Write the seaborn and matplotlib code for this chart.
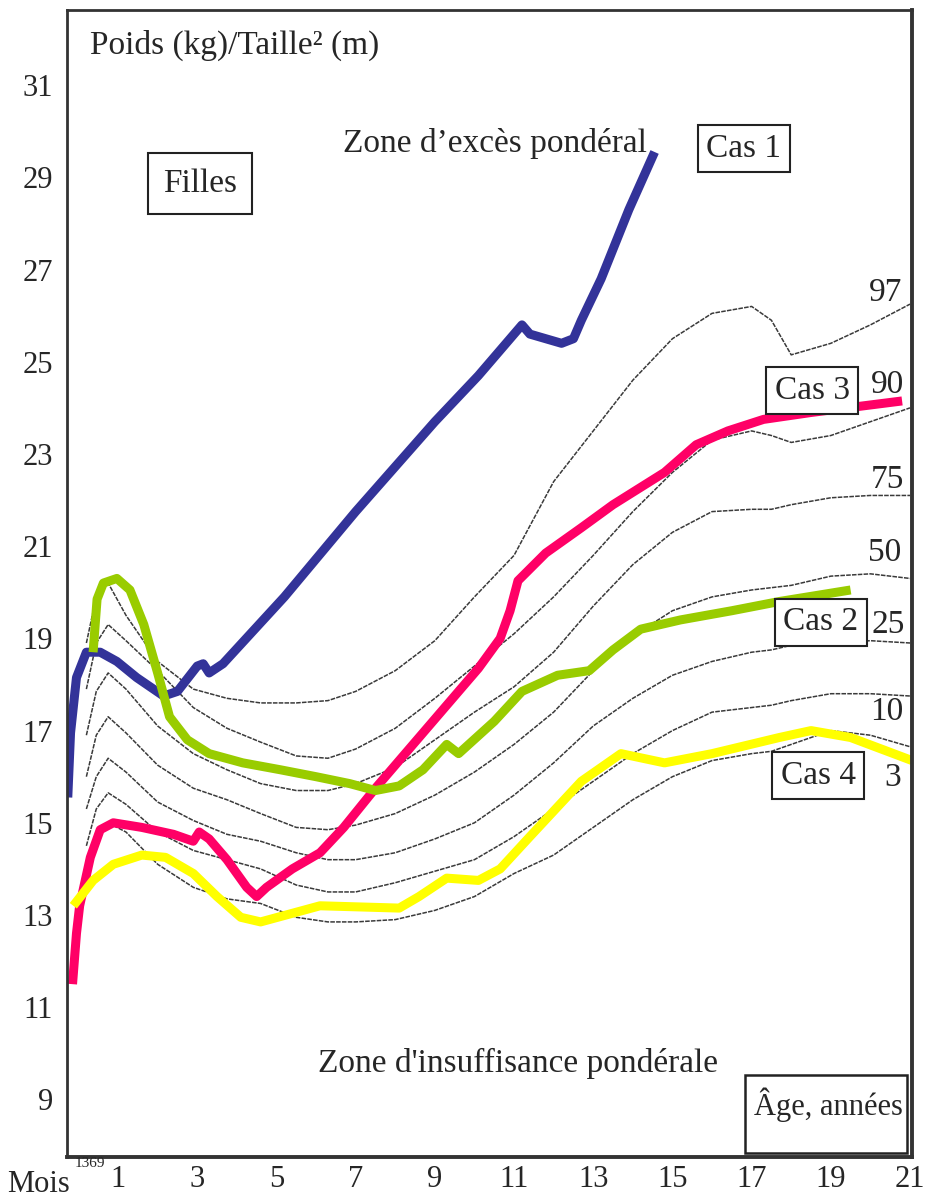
import numpy as np
import pandas as pd
import seaborn as sns
import matplotlib.pyplot as plt
from matplotlib.patches import Rectangle

sns.set_theme(style="white")
plt.rcParams['font.family'] = ['Liberation Serif', 'DejaVu Serif']

# percentile reference curves (age in years, BMI)
pct_ages = [0.2, 0.45, 0.75, 1.2, 2.0, 2.9, 3.75, 4.6, 5.5, 6.3, 7.0, 8.0, 9.0, 10.0,
            11.0, 12.0, 13.0, 14.0, 15.0, 16.0, 17.0, 17.5, 18.0, 19.0, 20.0, 21.0]
p97 = [18.9, 19.9, 20.2, 19.5, 18.5, 17.9, 17.7, 17.6, 17.6, 17.65, 17.85, 18.3, 18.95, 19.9,
       20.8, 22.4, 23.5, 24.6, 25.5, 26.05, 26.2, 25.9, 25.15, 25.4, 25.8, 26.25]
p90 = [17.9, 18.9, 19.3, 18.95, 18.3, 17.5, 17.05, 16.75, 16.45, 16.4, 16.6, 17.05, 17.7, 18.4,
       19.1, 19.9, 20.8, 21.75, 22.6, 23.3, 23.5, 23.4, 23.25, 23.4, 23.7, 24.0]
p75 = [16.9, 17.85, 18.25, 17.9, 17.1, 16.5, 16.15, 15.85, 15.7, 15.7, 15.85, 16.2, 16.8, 17.4,
       17.95, 18.7, 19.7, 20.6, 21.3, 21.75, 21.8, 21.8, 21.9, 22.05, 22.1, 22.1]
p50 = [16.0, 16.9, 17.3, 16.95, 16.25, 15.75, 15.5, 15.2, 14.9, 14.85, 14.95, 15.2, 15.6, 16.1,
       16.7, 17.4, 18.3, 19.05, 19.6, 19.9, 20.05, 20.1, 20.15, 20.35, 20.4, 20.3]
p25 = [15.3, 16.0, 16.4, 16.1, 15.45, 15.05, 14.75, 14.6, 14.35, 14.2, 14.2, 14.35, 14.65, 15.0,
       15.6, 16.3, 17.1, 17.7, 18.2, 18.5, 18.7, 18.75, 18.85, 18.9, 18.95, 18.9]
p10 = [14.5, 15.3, 15.65, 15.4, 14.8, 14.4, 14.2, 14.0, 13.65, 13.5, 13.5, 13.7, 13.95, 14.2,
       14.7, 15.3, 15.9, 16.5, 17.0, 17.4, 17.5, 17.55, 17.65, 17.8, 17.8, 17.75]
p3 = [14.0, 14.7, 15.0, 14.8, 14.1, 13.6, 13.35, 13.25, 12.95, 12.85, 12.85, 12.9, 13.1, 13.4,
      13.9, 14.3, 14.9, 15.5, 16.0, 16.35, 16.5, 16.55, 16.7, 17.0, 16.9, 16.65]

# the four cases
cas1_age = [-0.27, -0.2, -0.05, 0.2, 0.55, 0.97, 1.47, 2.15, 2.5, 3.0, 3.15, 3.3, 3.65,
            5.2, 7.0, 9.0, 10.1, 11.2, 11.4, 12.2, 12.5, 12.7, 13.2, 13.9, 14.55]
cas1_bmi = [15.55, 16.95, 18.15, 18.7, 18.7, 18.5, 18.15, 17.75, 17.85, 18.4, 18.45, 18.25, 18.45,
            19.9, 21.75, 23.7, 24.7, 25.8, 25.6, 25.4, 25.5, 25.9, 26.8, 28.3, 29.55]

cas2_age = [0.37, 0.47, 0.63, 0.97, 1.3, 1.65, 2.0, 2.3, 2.75, 3.3, 4.15, 5.1, 6.0, 6.85,
            7.5, 8.1, 8.7, 9.3, 9.6, 10.5, 11.2, 12.1, 12.9, 13.5, 14.2, 15.2, 16.5, 17.7, 19.5]
cas2_bmi = [18.7, 19.85, 20.2, 20.3, 20.05, 19.3, 18.25, 17.3, 16.8, 16.5, 16.3, 16.15, 16.0, 15.85,
            15.7, 15.8, 16.15, 16.7, 16.5, 17.2, 17.85, 18.2, 18.3, 18.75, 19.2, 19.4, 19.6, 19.8, 20.05]

cas3_age = [-0.15, -0.05, 0.03, 0.3, 0.55, 0.88, 1.6, 2.4, 2.9, 3.05, 3.3, 3.75, 4.25, 4.5,
            4.75, 5.4, 6.1, 6.7, 7.5, 8.8, 10.1, 10.65, 10.9, 11.1, 11.8, 12.7, 13.5, 14.8,
            15.6, 16.4, 17.3, 18.5, 20.8]
cas3_bmi = [11.5, 12.6, 13.2, 14.25, 14.85, 15.0, 14.9, 14.75, 14.6, 14.8, 14.65, 14.2, 13.6, 13.4,
            13.6, 14.0, 14.35, 14.9, 15.75, 17.05, 18.35, 19.0, 19.6, 20.25, 20.85, 21.4, 21.9, 22.6,
            23.2, 23.5, 23.75, 23.9, 24.15]

cas4_age = [-0.13, 0.37, 0.88, 1.6, 2.2, 2.9, 3.5, 4.1, 4.6, 6.1, 8.1, 8.6, 9.3, 10.1, 10.65,
            11.4, 12.7, 13.7, 14.8, 16.0, 17.7, 18.5, 19.5, 21.05]
cas4_bmi = [13.2, 13.75, 14.1, 14.3, 14.25, 13.9, 13.4, 12.95, 12.85, 13.2, 13.15, 13.4, 13.8, 13.75, 14.0,
            14.7, 15.9, 16.5, 16.3, 16.5, 16.85, 17.0, 16.85, 16.35]

x_ticks = [1, 3, 5, 7, 9, 11, 13, 15, 17, 19, 21]
y_ticks = [9, 11, 13, 15, 17, 19, 21, 23, 25, 27, 29, 31]

fig = plt.figure(figsize=(9.5, 12.04), dpi=100)
ax = fig.add_axes([0.0705, 0.039, 0.8895, 0.9527])

for vals in [p97, p90, p75, p50, p25, p10, p3]:
    sns.lineplot(x=pct_ages, y=vals, ax=ax, color="#3a3a3a", lw=1.1,
                 linestyle=(0, (3, 0.8)), sort=False, estimator=None)

cases = [(cas1_age, cas1_bmi, "#333399"), (cas3_age, cas3_bmi, "#ff0066"),
         (cas2_age, cas2_bmi, "#99cc00"), (cas4_age, cas4_bmi, "#ffff00")]
for ages, vals, col in cases:
    sns.lineplot(x=ages, y=vals, ax=ax, color=col, lw=6.5, sort=False,
                 estimator=None, solid_capstyle="butt", solid_joinstyle="round")

ax.set_xlim(-0.29, 21.05)
ax.set_ylim(7.75, 32.63)
ax.set_xticks(x_ticks)
ax.set_yticks(y_ticks)
ax.tick_params(length=0, labelsize=22)
ax.tick_params(axis="y", pad=10)
ax.tick_params(axis="x", pad=6)
ax.set_xlabel("")
ax.set_ylabel("")
for side in ["left", "bottom", "right", "top"]:
    ax.spines[side].set_color("#333333")
    ax.spines[side].set_linewidth(2)
ax.spines["right"].set_linewidth(2.8)
ax.spines["bottom"].set_linewidth(2.8)

fs = 24
box = dict(boxstyle="square,pad=0.25", fc="white", ec="#222222", lw=1.5)
ax.text(0.29, 31.87, "Poids (kg)/Taille² (m)", fontsize=fs, va="center", ha="left")
ax.text(3.07, 28.87, "Filles", fontsize=fs, ha="center", va="center",
        bbox=dict(boxstyle="square,pad=0.45", fc="white", ec="#222222", lw=1.5))
ax.text(6.68, 29.74, "Zone d’excès pondéral", fontsize=fs, ha="left", va="center")
ax.text(16.8, 29.63, "Cas 1", fontsize=fs, ha="center", va="center", bbox=box)
ax.text(18.53, 24.38, "Cas 3", fontsize=fs, ha="center", va="center", bbox=box)
ax.text(18.75, 19.35, "Cas 2", fontsize=fs, ha="center", va="center", bbox=box)
ax.text(18.68, 16.03, "Cas 4", fontsize=fs, ha="center", va="center", bbox=box)
for lab, lx, ly in [("97", 20.37, 26.49), ("90", 20.44, 24.5), ("75", 20.42, 22.43),
                    ("50", 20.37, 20.85), ("25", 20.44, 19.29), ("10", 20.42, 17.4),
                    ("3", 20.55, 15.97)]:
    ax.text(lx, ly, lab, fontsize=fs, ha="center", va="center")
ax.text(6.05, 9.78, "Zone d'insuffisance pondérale", fontsize=fs, ha="left", va="center")
ax.add_patch(Rectangle((0.802, 0.0035), 0.192, 0.068, transform=ax.transAxes,
                       fill=False, ec="#222222", lw=1.8))
ax.text(0.9006, 0.0453, "Âge, années", transform=ax.transAxes, fontsize=22,
        ha="center", va="center")

fig.text(0.041, 0.0158, "Mois", fontsize=22, ha="center", va="center")
fig.text(0.095, 0.034, "1369", fontsize=11, ha="center", va="center")

fig.savefig("out.png", dpi=100, facecolor="white")
